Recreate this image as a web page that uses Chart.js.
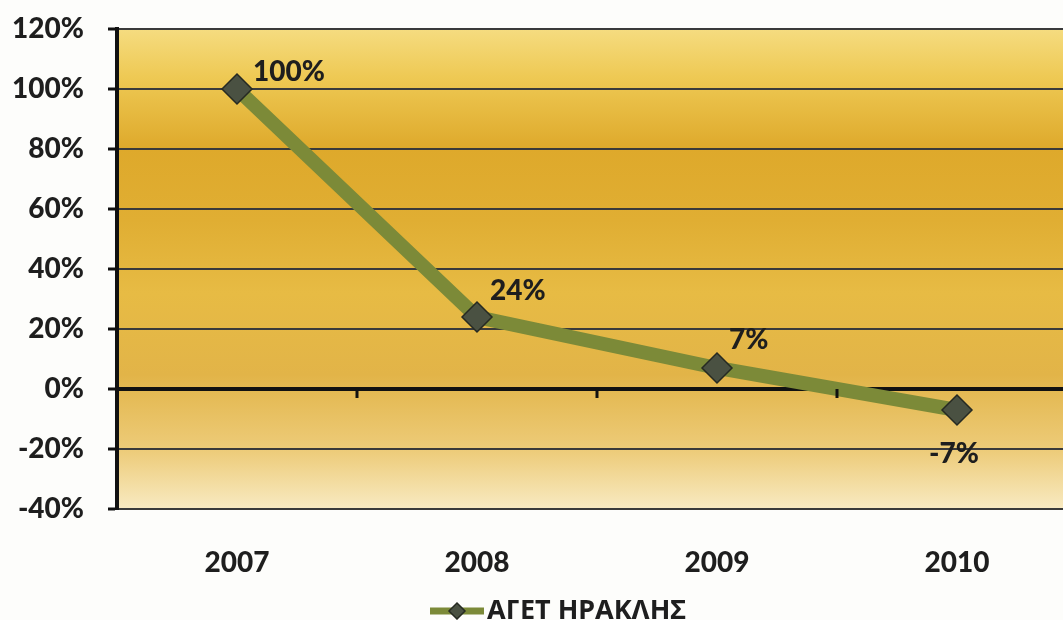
<!DOCTYPE html>
<html>
<head>
<meta charset="utf-8">
<title>ΑΓΕΤ ΗΡΑΚΛΗΣ</title>
<script src="https://cdn.jsdelivr.net/npm/chart.js@4/dist/chart.umd.min.js"></script>
<style>
    html, body { margin: 0; padding: 0; background: #fdfdfb; overflow: hidden; }
</style>
</head>
<body>
<canvas id="chart" width="1063" height="620"></canvas>
<script>
const years = ['2007', '2008', '2009', '2010'];
const changePct = [100, 24, 7, -7];
const yTicks = [-40, -20, 0, 20, 40, 60, 80, 100, 120];
const seriesName = 'ΑΓΕΤ ΗΡΑΚΛΗΣ';

const FONT = 'Lato, "Noto Sans", sans-serif';
const LEGEND_FONT = '"Noto Sans", "DejaVu Sans", sans-serif';
const WEIGHT = '900';
const LINE_COLOR = '#7c8a38';
const MARKER_FILL = '#4a5142';
const MARKER_EDGE = '#262a22';

// where each value label sits relative to its marker
const labelOffsets = [[16, -17, 'left'], [13, -26, 'left'], [12, -28, 'left'], [-3, 44, 'center']];

// gold backdrop inside the plot area
const plotBackground = {
    id: 'plotBackground',
    beforeDraw(chart) {
        const { ctx, chartArea: a } = chart;
        const g = ctx.createLinearGradient(0, a.top, 0, a.bottom);
        g.addColorStop(0, '#f5dc80');
        g.addColorStop(0.1, '#eec954');
        g.addColorStop(0.25, '#dea92b');
        g.addColorStop(0.4, '#e0ae33');
        g.addColorStop(0.55, '#e7bb44');
        g.addColorStop(0.72, '#e2b448');
        g.addColorStop(0.88, '#edcc7a');
        g.addColorStop(1, '#f8eac2');
        ctx.save();
        ctx.fillStyle = g;
        ctx.fillRect(a.left, a.top, a.right - a.left, a.bottom - a.top);
        ctx.restore();
    }
};

// small ticks below the zero line between categories
const zeroTicks = {
    id: 'zeroTicks',
    afterDatasetsDraw(chart) {
        const { ctx, scales: { x, y } } = chart;
        const y0 = y.getPixelForValue(0);
        ctx.save();
        ctx.strokeStyle = '#111';
        ctx.lineWidth = 3;
        for (let i = 0; i < years.length - 1; i++) {
            const px = x.getPixelForValue(i + 0.5);
            ctx.beginPath();
            ctx.moveTo(px, y0);
            ctx.lineTo(px, y0 + 9);
            ctx.stroke();
        }
        ctx.restore();
    }
};

const valueLabels = {
    id: 'valueLabels',
    afterDatasetsDraw(chart) {
        const { ctx } = chart;
        const meta = chart.getDatasetMeta(0);
        ctx.save();
        ctx.font = WEIGHT + ' 28px ' + FONT;
        ctx.fillStyle = '#1e1e1e';
        ctx.textBaseline = 'middle';
        meta.data.forEach((pt, i) => {
            const [dx, dy, align] = labelOffsets[i];
            ctx.textAlign = align;
            ctx.fillText(changePct[i] + '%', pt.x + dx, pt.y + dy);
        });
        ctx.restore();
    }
};

function drawDiamond(ctx, cx, cy, r) {
    ctx.beginPath();
    ctx.moveTo(cx, cy - r);
    ctx.lineTo(cx + r, cy);
    ctx.lineTo(cx, cy + r);
    ctx.lineTo(cx - r, cy);
    ctx.closePath();
    ctx.fillStyle = MARKER_FILL;
    ctx.fill();
    ctx.strokeStyle = MARKER_EDGE;
    ctx.lineWidth = 1.5;
    ctx.stroke();
}

// legend under the axis: line sample with diamond, then series name
const bottomLegend = {
    id: 'bottomLegend',
    afterDraw(chart) {
        const { ctx } = chart;
        const cy = 611;
        const x0 = 430;
        const sampleW = 54;
        ctx.save();
        ctx.strokeStyle = LINE_COLOR;
        ctx.lineWidth = 7;
        ctx.beginPath();
        ctx.moveTo(x0, cy);
        ctx.lineTo(x0 + sampleW, cy);
        ctx.stroke();
        drawDiamond(ctx, x0 + sampleW / 2, cy, 8);
        ctx.font = 'bold 27px ' + LEGEND_FONT;
        ctx.fillStyle = '#1e1e1e';
        ctx.textBaseline = 'middle';
        ctx.textAlign = 'left';
        ctx.fillText(seriesName, x0 + sampleW + 3, cy);
        ctx.restore();
    }
};

// the plot runs off the right edge: 240px per year from a 117px axis
const xMin = -0.5;
const xMax = xMin + (1063 - 117) / 240;

new Chart(document.getElementById('chart'), {
    type: 'line',
    data: {
        datasets: [{
            label: seriesName,
            data: changePct.map((v, i) => ({ x: i, y: v })),
            borderColor: LINE_COLOR,
            borderWidth: 14,
            tension: 0,
            pointStyle: 'rectRot',
            pointRadius: 15,
            pointBackgroundColor: MARKER_FILL,
            pointBorderColor: MARKER_EDGE,
            pointBorderWidth: 1.5
        }]
    },
    options: {
        responsive: false,
        animation: false,
        events: [],
        layout: { autoPadding: false, padding: { top: 29, right: 0, bottom: 0, left: 0 } },
        plugins: {
            legend: { display: false },
            tooltip: { enabled: false }
        },
        scales: {
            x: {
                type: 'linear',
                min: xMin,
                max: xMax,
                afterBuildTicks(scale) { scale.ticks = years.map((_, i) => ({ value: i })); },
                grid: { display: false, drawTicks: false },
                border: { display: false },
                ticks: {
                    color: '#1e1e1e',
                    font: { family: FONT, size: 28, weight: WEIGHT },
                    padding: 37,
                    maxRotation: 0,
                    autoSkip: false,
                    callback: v => years[v]
                },
                afterFit(scale) {
                    scale.height = 111;
                    scale.paddingLeft = 0;
                    scale.paddingRight = 0;
                }
            },
            y: {
                min: -40,
                max: 120,
                afterBuildTicks(scale) { scale.ticks = yTicks.map(v => ({ value: v })); },
                grid: {
                    color: ctx => ctx.tick && ctx.tick.value === 0 ? '#111' : '#3a3a3a',
                    lineWidth: ctx => ctx.tick && ctx.tick.value === 0 ? 4 : 2,
                    tickColor: '#111',
                    tickWidth: 3,
                    tickLength: 9
                },
                border: { color: '#111', width: 4 },
                ticks: {
                    color: '#1e1e1e',
                    font: { family: FONT, size: 28, weight: WEIGHT },
                    padding: 24,
                    callback: v => v + '%'
                },
                afterFit(scale) {
                    scale.width = 117;
                    scale.paddingTop = 0;
                    scale.paddingBottom = 0;
                }
            }
        }
    },
    plugins: [plotBackground, zeroTicks, valueLabels, bottomLegend]
});
</script>
</body>
</html>
